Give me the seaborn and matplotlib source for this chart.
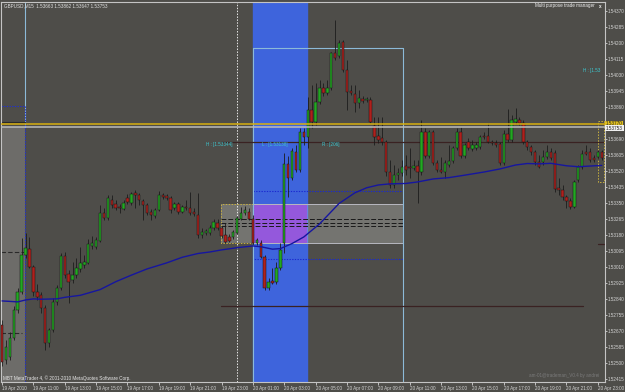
import matplotlib
matplotlib.use("Agg")
import matplotlib.pyplot as plt
import seaborn as sns
import numpy as np
import pandas as pd
from matplotlib.patches import Rectangle

# ---------------- data ----------------
opens = [1.52703, 1.52518, 1.52533, 1.52634, 1.52783, 1.52879, 1.53075, 1.53107, 1.53012, 1.52879,
         1.52863, 1.52794, 1.52608, 1.52677, 1.52826, 1.52900, 1.53070, 1.52974, 1.52943, 1.52969,
         1.53001, 1.53022, 1.53033, 1.53123, 1.53118, 1.53150, 1.53298, 1.53272, 1.53368, 1.53346,
         1.53330, 1.53320, 1.53378, 1.53352, 1.53405, 1.53394, 1.53362, 1.53341, 1.53304, 1.53283,
         1.53314, 1.53394, 1.53389, 1.53378, 1.53325, 1.53346, 1.53304, 1.53330, 1.53325, 1.53304,
         1.53288, 1.53182, 1.53192, 1.53192, 1.53219, 1.53245, 1.53219, 1.53182, 1.53171, 1.53171,
         1.53192, 1.53267, 1.53298, 1.53304, 1.53267, 1.53139, 1.53139, 1.53065, 1.52900, 1.52937,
         1.52932, 1.53006, 1.53139, 1.53559, 1.53484, 1.53622, 1.53527, 1.53729, 1.53702, 1.53846,
         1.53782, 1.53888, 1.53963, 1.53936, 1.53963, 1.54148, 1.54133, 1.54207, 1.54058, 1.53947,
         1.53931, 1.53883, 1.53904, 1.53899, 1.53899, 1.53761, 1.53708, 1.53697, 1.53676, 1.53516,
         1.53447, 1.53500, 1.53511, 1.53548, 1.53543, 1.53538, 1.53548, 1.53516, 1.53729, 1.53601,
         1.53729, 1.53564, 1.53527, 1.53516, 1.53553, 1.53575, 1.53644, 1.53729, 1.53601, 1.53676,
         1.53638, 1.53644, 1.53649, 1.53708, 1.53708, 1.53676, 1.53670, 1.53665, 1.53564, 1.53718,
         1.53686, 1.53782, 1.53793, 1.53777, 1.53676, 1.53649, 1.53622, 1.53569, 1.53569, 1.53596,
         1.53622, 1.53617, 1.53431, 1.53421, 1.53383, 1.53362, 1.53330, 1.53474, 1.53543, 1.53622,
         1.53622, 1.53591, 1.53596, 1.53622]
highs = [1.52730, 1.52624, 1.52666, 1.52804, 1.52900, 1.53166, 1.53192, 1.53171, 1.53022, 1.52921,
         1.52879, 1.52810, 1.52688, 1.52847, 1.52916, 1.53086, 1.53091, 1.52996, 1.53038, 1.53059,
         1.53118, 1.53075, 1.53160, 1.53176, 1.53171, 1.53341, 1.53325, 1.53394, 1.53394, 1.53368,
         1.53346, 1.53368, 1.53399, 1.53410, 1.53421, 1.53405, 1.53373, 1.53352, 1.53320, 1.53325,
         1.53415, 1.53405, 1.53399, 1.53389, 1.53357, 1.53357, 1.53341, 1.53368, 1.53410, 1.53325,
         1.53405, 1.53219, 1.53213, 1.53235, 1.53267, 1.53267, 1.53229, 1.53245, 1.53187, 1.53208,
         1.53283, 1.53330, 1.53336, 1.53325, 1.53288, 1.53166, 1.53155, 1.53075, 1.52953, 1.53006,
         1.53038, 1.53139, 1.53617, 1.53601, 1.53644, 1.53660, 1.53750, 1.53750, 1.53915, 1.53978,
         1.53989, 1.54005, 1.53989, 1.54005, 1.54154, 1.54324, 1.54218, 1.54218, 1.54111, 1.53978,
         1.53978, 1.53952, 1.53920, 1.53915, 1.53915, 1.53808, 1.53808, 1.53808, 1.53686, 1.53580,
         1.53553, 1.53538, 1.53580, 1.53607, 1.53644, 1.53580, 1.53580, 1.53793, 1.53750, 1.53739,
         1.53739, 1.53580, 1.53596, 1.53580, 1.53660, 1.53654, 1.53750, 1.53755, 1.53670, 1.53697,
         1.53686, 1.53676, 1.53713, 1.53729, 1.53777, 1.53686, 1.53686, 1.53676, 1.53739, 1.53851,
         1.53819, 1.53856, 1.53808, 1.53793, 1.53686, 1.53660, 1.53633, 1.53607, 1.53633, 1.53660,
         1.53644, 1.53633, 1.53484, 1.53447, 1.53394, 1.53378, 1.53474, 1.53553, 1.53633, 1.53660,
         1.53644, 1.53607, 1.53633, 1.53633]
lows = [1.52486, 1.52496, 1.52518, 1.52624, 1.52767, 1.52868, 1.53059, 1.53006, 1.52858, 1.52836,
        1.52767, 1.52571, 1.52587, 1.52666, 1.52810, 1.52889, 1.52953, 1.52820, 1.52927, 1.52953,
        1.52985, 1.53006, 1.53028, 1.53107, 1.53107, 1.53144, 1.53261, 1.53261, 1.53325, 1.53314,
        1.53298, 1.53314, 1.53346, 1.53341, 1.53325, 1.53341, 1.53261, 1.53288, 1.53261, 1.53272,
        1.53309, 1.53373, 1.53368, 1.53298, 1.53314, 1.53293, 1.53298, 1.53314, 1.53288, 1.53283,
        1.53166, 1.53166, 1.53182, 1.53182, 1.53208, 1.53208, 1.53166, 1.53139, 1.53144, 1.53160,
        1.53187, 1.53261, 1.53288, 1.53261, 1.53128, 1.53128, 1.53059, 1.52889, 1.52889, 1.52921,
        1.52921, 1.52996, 1.53086, 1.53383, 1.53474, 1.53516, 1.53516, 1.53660, 1.53644, 1.53750,
        1.53766, 1.53878, 1.53920, 1.53925, 1.53952, 1.54111, 1.54122, 1.54048, 1.53846, 1.53925,
        1.53835, 1.53856, 1.53883, 1.53888, 1.53777, 1.53660, 1.53670, 1.53660, 1.53495, 1.53431,
        1.53431, 1.53474, 1.53495, 1.53500, 1.53484, 1.53527, 1.53352, 1.53500, 1.53591, 1.53591,
        1.53553, 1.53516, 1.53511, 1.53484, 1.53543, 1.53564, 1.53633, 1.53591, 1.53591, 1.53633,
        1.53628, 1.53633, 1.53638, 1.53692, 1.53670, 1.53660, 1.53649, 1.53553, 1.53553, 1.53676,
        1.53676, 1.53771, 1.53766, 1.53665, 1.53633, 1.53607, 1.53553, 1.53538, 1.53553, 1.53585,
        1.53580, 1.53410, 1.53394, 1.53368, 1.53325, 1.53320, 1.53325, 1.53463, 1.53532, 1.53607,
        1.53569, 1.53569, 1.53585, 1.53580]
closes = [1.52507, 1.52587, 1.52634, 1.52783, 1.52879, 1.53075, 1.53113, 1.53012, 1.52879, 1.52852,
          1.52794, 1.52608, 1.52677, 1.52826, 1.52900, 1.53070, 1.52969, 1.52932, 1.52969, 1.53006,
          1.53033, 1.53038, 1.53134, 1.53139, 1.53155, 1.53298, 1.53272, 1.53378, 1.53341, 1.53325,
          1.53325, 1.53352, 1.53357, 1.53399, 1.53394, 1.53368, 1.53341, 1.53298, 1.53288, 1.53314,
          1.53394, 1.53383, 1.53378, 1.53314, 1.53346, 1.53304, 1.53330, 1.53325, 1.53298, 1.53293,
          1.53182, 1.53198, 1.53203, 1.53219, 1.53251, 1.53219, 1.53176, 1.53144, 1.53150, 1.53198,
          1.53272, 1.53298, 1.53314, 1.53267, 1.53139, 1.53155, 1.53065, 1.52900, 1.52932, 1.52927,
          1.53006, 1.53102, 1.53559, 1.53484, 1.53628, 1.53527, 1.53729, 1.53702, 1.53846, 1.53782,
          1.53888, 1.53963, 1.53936, 1.53963, 1.54148, 1.54122, 1.54202, 1.54058, 1.53941, 1.53936,
          1.53883, 1.53909, 1.53893, 1.53904, 1.53782, 1.53702, 1.53686, 1.53676, 1.53516, 1.53447,
          1.53500, 1.53511, 1.53543, 1.53527, 1.53538, 1.53548, 1.53516, 1.53729, 1.53601, 1.53729,
          1.53564, 1.53527, 1.53516, 1.53564, 1.53575, 1.53644, 1.53729, 1.53601, 1.53660, 1.53644,
          1.53660, 1.53660, 1.53702, 1.53702, 1.53676, 1.53670, 1.53660, 1.53564, 1.53718, 1.53686,
          1.53793, 1.53798, 1.53777, 1.53676, 1.53649, 1.53622, 1.53569, 1.53543, 1.53596, 1.53622,
          1.53591, 1.53426, 1.53421, 1.53383, 1.53362, 1.53330, 1.53463, 1.53543, 1.53612, 1.53612,
          1.53580, 1.53580, 1.53622, 1.53591]

ma_bars = [0, 4, 6, 8, 10, 14, 16, 20, 25, 29, 33, 37, 42, 46, 50, 53, 56, 60, 64, 66, 69, 71,
           74, 77, 81, 86, 90, 93, 96, 99, 103, 106, 110, 114, 118, 123, 127, 131, 134, 137, 140,
           144, 147, 153]
ma_vals = [1.52831, 1.52826, 1.52836, 1.52842, 1.52840, 1.52842, 1.52850, 1.52861, 1.52891,
           1.52933, 1.52968, 1.53001, 1.53033, 1.53063, 1.53083, 1.53091, 1.53102, 1.53114,
           1.53123, 1.53119, 1.53106, 1.53109, 1.53136, 1.53171, 1.53240, 1.53349, 1.53405,
           1.53432, 1.53447, 1.53453, 1.53455, 1.53463, 1.53479, 1.53486, 1.53499, 1.53516,
           1.53532, 1.53553, 1.53561, 1.53559, 1.53562, 1.53549, 1.53544, 1.53551]

price_ticks = [1.54370, 1.54285, 1.54200, 1.54115, 1.54030, 1.53945, 1.53860, 1.53690, 1.53605,
               1.53520, 1.53435, 1.53350, 1.53265, 1.53180, 1.53095, 1.53010, 1.52925, 1.52840,
               1.52755, 1.52670, 1.52585, 1.52500, 1.52415]
time_ticks = [0, 8, 16, 24, 32, 40, 48, 56, 64, 72, 80, 88, 96, 104, 112, 120, 128, 136, 144, 152]
time_labels = ["19 Apr 2010", "19 Apr 11:00", "19 Apr 13:00", "19 Apr 15:00", "19 Apr 17:00",
               "19 Apr 19:00", "19 Apr 21:00", "19 Apr 23:00", "20 Apr 01:00", "20 Apr 03:00",
               "20 Apr 05:00", "20 Apr 07:00", "20 Apr 09:00", "20 Apr 11:00", "20 Apr 13:00",
               "20 Apr 15:00", "20 Apr 17:00", "20 Apr 19:00", "20 Apr 21:00", "20 Apr 23:00"]

box_high = 1.53344
box_low = 1.53138
box_range = 206
bid = 1.53753
yellow_level = 1.53770

# ---------------- figure ----------------
BG = "#4e4d49"
W, H = 625, 392
fig = plt.figure(figsize=(W / 100, H / 100), dpi=100, facecolor=BG)
sns.set_style("dark")
plt.rcParams["font.family"] = ["Liberation Sans", "DejaVu Sans"]

def px(x0, y0, x1, y1):
    return [x0 / W, 1 - y1 / H, (x1 - x0) / W, (y1 - y0) / H]

ax = fig.add_axes(px(1.5, 2, 604.5, 381.5))
ax.set_facecolor(BG)
ylo, yhi = 1.52403, 1.54419
xlo, xhi = -0.13, 153.7
ax.set_xlim(xlo, xhi)
ax.set_ylim(ylo, yhi)

df = pd.DataFrame({"bar": np.arange(len(opens)), "open": opens, "high": highs,
                   "low": lows, "close": closes})

# background objects
ax.add_patch(Rectangle((xlo, ylo), 5.87 - xlo, bid - ylo, facecolor="#6d6c69", edgecolor="none", zorder=0.5))
ax.axvspan(63.95, 77.8, color="#3e64dc", zorder=0.6)
ax.axvline(59.95, color="#e8e8e8", lw=0.7, ls=(0, (1.5, 1.5)), zorder=0.7)
# gray box
ax.add_patch(Rectangle((55.9, box_low), 102.3 - 55.9, box_high - box_low, facecolor="white",
                       alpha=0.22, edgecolor="none", zorder=0.8))
ax.add_patch(Rectangle((63.95, box_low), 77.8 - 63.95, box_high - box_low, facecolor="#9458dc",
                       edgecolor="none", zorder=0.85))
ax.plot([63.95, 102.3, 102.3, 63.95], [box_high, box_high, box_low, box_low], color="#b8b8c0", lw=0.7, zorder=0.9)
ax.plot([63.95, 55.9, 55.9, 63.95], [box_high, box_high, box_low, box_low], color="#c8b040", lw=0.7,
        ls=(0, (1.5, 1.5)), zorder=0.9)
for lvl in [1.53265, 1.53247, 1.53229]:
    ax.plot([55.9, 102.3], [lvl, lvl], color="#1a1a1a", lw=0.7, ls=(0, (5, 2)), zorder=0.95)
# blue dotted rectangle
ax.plot([63.95, 102.3, 102.3, 63.95, 63.95], [1.53417, 1.53417, 1.53054, 1.53054, 1.53417],
        color="#1a2ad0", lw=0.8, ls=(0, (1.2, 1.2)), zorder=0.95)
# light blue rectangle
ax.plot([63.95, 63.95, 102.3, 102.3], [ylo, 1.54173, 1.54173, ylo], color="#8cbad8", lw=0.8, zorder=0.95)
# left markers
ax.plot([5.87, 5.87], [bid, yhi], color="#8cbad8", lw=0.8, zorder=0.95)
ax.plot([xlo, 5.87, 5.87], [1.53867, 1.53867, ylo], color="#2030d0", lw=0.8, ls=(0, (1.2, 1.2)), zorder=0.95)
ax.plot([xlo, 5.87], [1.53782, 1.53782], color="#2a2a2a", lw=0.8, zorder=0.95)
ax.plot([xlo, 5.87], [1.53091, 1.53091], color="#2a2a2a", lw=0.8, ls=(0, (4, 2)), zorder=0.95)
ax.plot([xlo, 5.0], [1.52661, 1.52661], color="#2a2a2a", lw=0.8, ls=(0, (4, 2)), zorder=0.95)
# horizontal levels
ax.plot([55.9, xhi], [1.53673, 1.53673], color="#3a2222", lw=0.9, zorder=0.95)
ax.plot([55.9, 148.2], [1.52804, 1.52804], color="#3a2222", lw=0.9, zorder=0.95)
ax.plot([152.1, xhi], [1.53134, 1.53134], color="#3a2222", lw=0.9, zorder=0.95)
ax.plot([152.1, 153.45, 153.45, 152.1, 152.1], [1.53789, 1.53789, 1.53463, 1.53463, 1.53789],
        color="#c8b040", lw=0.7, ls=(0, (1.5, 1.5)), zorder=0.95)

# candles
up = df["close"] >= df["open"]
ax.vlines(df["bar"], df["low"], df["high"], color="#1c1c1c", lw=0.6, zorder=2)
bottom = np.minimum(df["open"], df["close"])
height = np.maximum((df["close"] - df["open"]).abs(), 0.000025)
ax.bar(df["bar"][up], height[up], bottom=bottom[up], width=0.62, color="#22a822",
       edgecolor="#151515", linewidth=0.35, zorder=3)
ax.bar(df["bar"][~up], height[~up], bottom=bottom[~up], width=0.62, color="#b0201c",
       edgecolor="#151515", linewidth=0.35, zorder=3)

# moving average
sns.lineplot(x=ma_bars, y=ma_vals, ax=ax, color="#1616a0", lw=1.0, zorder=4)

# price lines
ax.axhline(yellow_level, color="#d8b010", lw=1.1, zorder=5)
ax.axhline(bid, color="#bcbcbc", lw=1.1, zorder=5)

# labels in chart
cyan = "#3cc8d0"
fs = 3.3
ax.text(52.0, 1.53660, "H : [%.5f]" % box_high, color=cyan, fontsize=fs, va="center", zorder=6)
ax.text(66.3, 1.53660, "L : [%.5f]" % box_low, color=cyan, fontsize=fs, va="center", zorder=6)
ax.text(81.6, 1.53660, "R : [%d]" % box_range, color=cyan, fontsize=fs, va="center", zorder=6)
ax.text(148.2, 1.54053, "H : [1.53", color=cyan, fontsize=fs, va="center", zorder=6)

# axes styling
for s in ax.spines.values():
    s.set_color("#c4c4c4")
    s.set_linewidth(0.8)
ax.yaxis.tick_right()
ax.set_yticks(price_ticks)
ax.set_yticklabels(["%.5f" % v for v in price_ticks])
ax.set_xticks(time_ticks)
ax.set_xticklabels(time_labels, ha="left")
ax.tick_params(axis="y", direction="out", length=1.5, width=0.6, pad=0.8, labelsize=fs,
               colors="#d4d4d4", right=True, left=False)
ax.tick_params(axis="x", direction="out", length=2, width=0.6, pad=1.2, labelsize=fs,
               colors="#d4d4d4", bottom=True)
ax.set_xlabel("")
ax.set_ylabel("")
ax.grid(False)

# figure texts
fig.text(4 / W, 1 - 6 / H, "GBPUSD,M15  1.53663 1.53862 1.53647 1.53753", color="#e0e0e0",
         fontsize=fs, va="center", ha="left")
fig.text(595 / W, 1 - 6 / H, "Multi purpose trade manager", color="#f0f0f0", fontsize=fs,
         va="center", ha="right")
fig.text(600 / W, 1 - 6 / H, "x", color="#f0f0f0", fontsize=fs, va="center", ha="center", weight="bold")
fig.text(3 / W, 1 - 378 / H, "MBT MetaTrader 4, \u00a9 2001-2010 MetaQuotes Software Corp.",
         color="#e8e8e8", fontsize=fs, va="center", ha="left")
fig.text(599 / W, 1 - 375.5 / H, "am-01@trademan_V0.4 by andrei", color="#7a7a7a",
         fontsize=fs, va="center", ha="right")
fig.text(606 / W, 1 - 123.7 / H, "1.53770", color="#202020", fontsize=fs, va="center", ha="left",
         bbox=dict(boxstyle="square,pad=0.15", fc="#e0c020", ec="none"))
fig.text(606 / W, 1 - 128.3 / H, "1.53753", color="#202020", fontsize=fs, va="center", ha="left",
         bbox=dict(boxstyle="square,pad=0.15", fc="#f0f0f0", ec="none"))

fig.savefig("out.png", dpi=100, facecolor=BG)
